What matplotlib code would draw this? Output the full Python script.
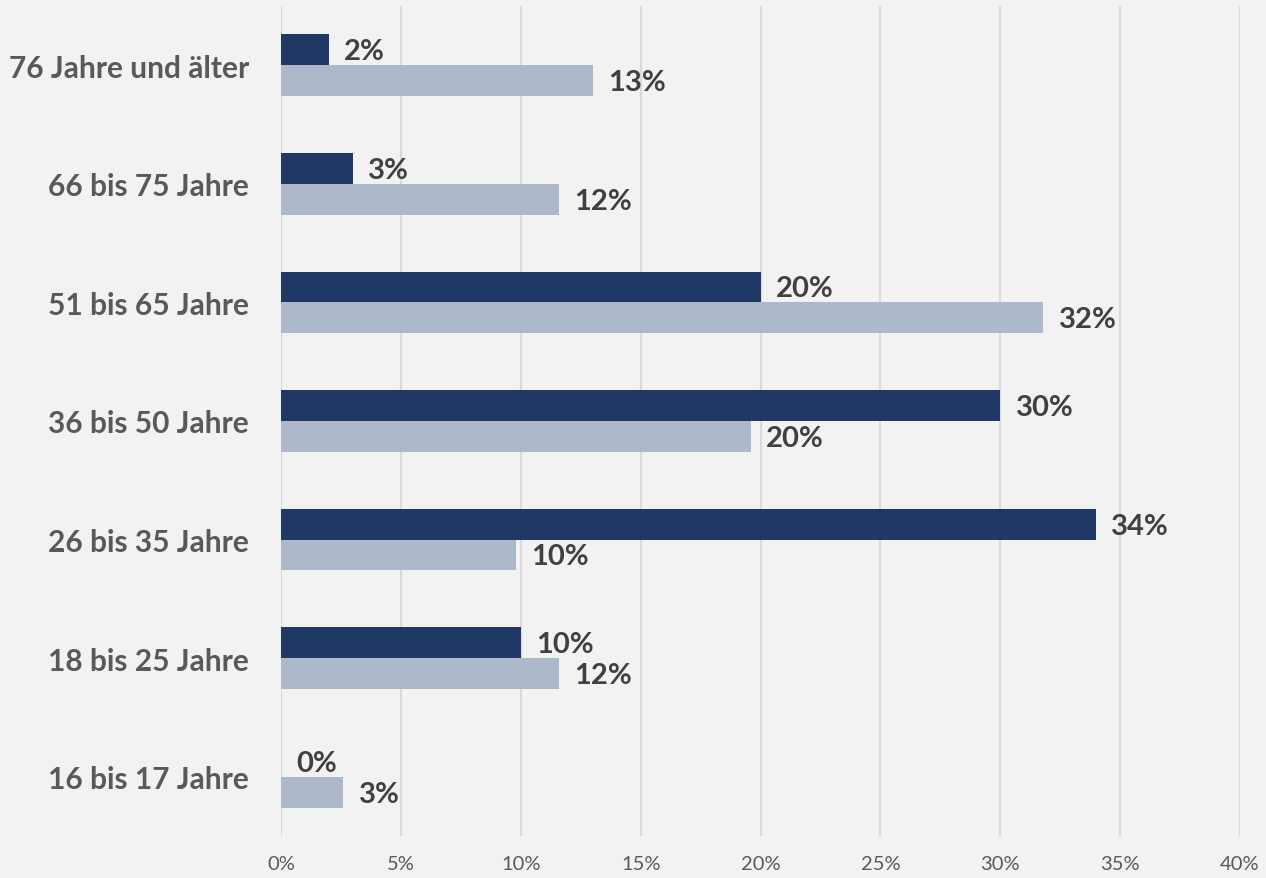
import matplotlib
matplotlib.use('Agg')
import matplotlib.pyplot as plt
import numpy as np

# ===== DADOS =====
kategorien = ['16 bis 17 Jahre', '18 bis 25 Jahre', '26 bis 35 Jahre', '36 bis 50 Jahre',
              '51 bis 65 Jahre', '66 bis 75 Jahre', '76 Jahre und älter']
werte_dunkel = [0.0, 10.0, 34.0, 30.0, 20.0, 3.0, 2.0]
werte_hell = [2.6, 11.6, 9.8, 19.6, 31.8, 11.6, 13.0]
x_ticks = [0, 5, 10, 15, 20, 25, 30, 35, 40]

FARBE_DUNKEL = '#1F3864'
FARBE_HELL = '#ADB9CA'
HINTERGRUND = '#F2F2F2'

plt.rcParams['font.family'] = ['Lato', 'DejaVu Sans']

fig = plt.figure(figsize=(12.66, 8.79), dpi=100, facecolor=HINTERGRUND)
ax = fig.add_axes([281 / 1266, 42 / 879, 959 / 1266, 830 / 879])
ax.set_facecolor(HINTERGRUND)

y = np.arange(len(kategorien))
h = 0.26
b1 = ax.barh(y + h / 2, werte_dunkel, height=h, color=FARBE_DUNKEL, zorder=3)
b2 = ax.barh(y - h / 2, werte_hell, height=h, color=FARBE_HELL, zorder=3)

for bars, werte in ((b1, werte_dunkel), (b2, werte_hell)):
    for bar, v in zip(bars, werte):
        ax.annotate(f'{v:.0f}%', (bar.get_width(), bar.get_y() + bar.get_height() / 2),
                    xytext=(11, -1), textcoords='offset points', va='center', ha='left',
                    fontsize=21, fontweight='bold', color='#404040')

ax.set_xlim(0, 40)
ax.set_ylim(-0.5, len(kategorien) - 0.5)
ax.set_xticks(x_ticks)
ax.set_xticklabels([f'{t}%' for t in x_ticks], fontsize=14.5, color='#595959')
ax.set_yticks(y)
ax.set_yticklabels(kategorien, fontsize=21.5, fontweight='bold', color='#595959')
ax.tick_params(axis='both', length=0)
ax.tick_params(axis='y', pad=23)
ax.tick_params(axis='x', pad=14)
ax.grid(axis='x', color='#D9D9D9', linewidth=1.5, zorder=0)
for s in ax.spines.values():
    s.set_visible(False)

plt.savefig('out.png', dpi=100, facecolor=HINTERGRUND)
plt.close()
